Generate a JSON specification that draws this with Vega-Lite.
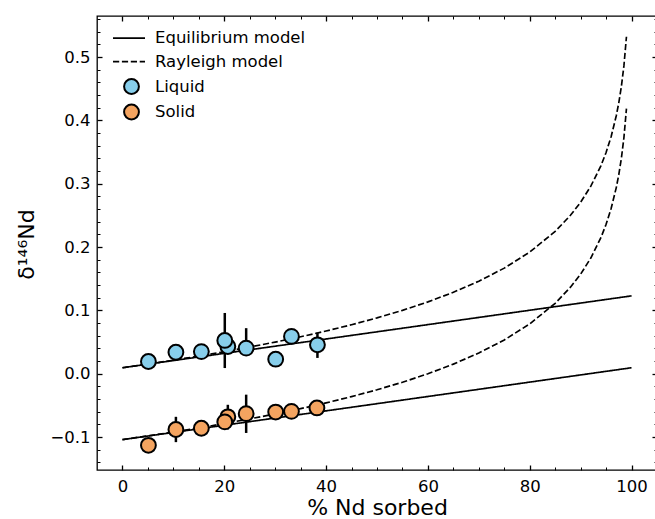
{
  "$schema": "https://vega.github.io/schema/vega-lite/v6.json",
  "width": 560,
  "height": 454,
  "autosize": "none",
  "padding": {"left": 97, "top": 16, "right": -2, "bottom": 49},
  "background": "white",
  "config": {
    "view": {"stroke": "black", "strokeWidth": 1.3},
    "font": "DejaVu Sans",
    "axis": {"labelFont": "DejaVu Sans", "labelFontSize": 16.5, "labelColor": "black", "titleFont": "DejaVu Sans", "titleFontWeight": "normal", "titleColor": "black", "grid": false, "domain": false, "tickColor": "black", "labelFlush": false, "labelOverlap": false},
    "legend": {"labelFont": "DejaVu Sans", "labelFontSize": 16.5, "labelColor": "black"}
  },
  "datasets": {
    "models": [
      {"pct": 0, "d": 0.0095, "model": "Equilibrium model", "phase": "Liquid"},
      {"pct": 100, "d": 0.123, "model": "Equilibrium model", "phase": "Liquid"},
      {"pct": 0, "d": -0.104, "model": "Equilibrium model", "phase": "Solid"},
      {"pct": 100, "d": 0.0095, "model": "Equilibrium model", "phase": "Solid"},
      {"pct": 0, "d": 0.0095, "model": "Rayleigh model", "phase": "Liquid"},
      {"pct": 5, "d": 0.0153, "model": "Rayleigh model", "phase": "Liquid"},
      {"pct": 10, "d": 0.0215, "model": "Rayleigh model", "phase": "Liquid"},
      {"pct": 15, "d": 0.0279, "model": "Rayleigh model", "phase": "Liquid"},
      {"pct": 20, "d": 0.0348, "model": "Rayleigh model", "phase": "Liquid"},
      {"pct": 25, "d": 0.0422, "model": "Rayleigh model", "phase": "Liquid"},
      {"pct": 30, "d": 0.05, "model": "Rayleigh model", "phase": "Liquid"},
      {"pct": 35, "d": 0.0584, "model": "Rayleigh model", "phase": "Liquid"},
      {"pct": 40, "d": 0.0675, "model": "Rayleigh model", "phase": "Liquid"},
      {"pct": 45, "d": 0.0774, "model": "Rayleigh model", "phase": "Liquid"},
      {"pct": 50, "d": 0.0882, "model": "Rayleigh model", "phase": "Liquid"},
      {"pct": 55, "d": 0.1001, "model": "Rayleigh model", "phase": "Liquid"},
      {"pct": 60, "d": 0.1135, "model": "Rayleigh model", "phase": "Liquid"},
      {"pct": 65, "d": 0.1287, "model": "Rayleigh model", "phase": "Liquid"},
      {"pct": 70, "d": 0.1462, "model": "Rayleigh model", "phase": "Liquid"},
      {"pct": 75, "d": 0.1668, "model": "Rayleigh model", "phase": "Liquid"},
      {"pct": 80, "d": 0.1922, "model": "Rayleigh model", "phase": "Liquid"},
      {"pct": 85, "d": 0.2248, "model": "Rayleigh model", "phase": "Liquid"},
      {"pct": 88, "d": 0.2502, "model": "Rayleigh model", "phase": "Liquid"},
      {"pct": 90, "d": 0.2708, "model": "Rayleigh model", "phase": "Liquid"},
      {"pct": 92, "d": 0.2962, "model": "Rayleigh model", "phase": "Liquid"},
      {"pct": 94, "d": 0.3288, "model": "Rayleigh model", "phase": "Liquid"},
      {"pct": 95, "d": 0.3495, "model": "Rayleigh model", "phase": "Liquid"},
      {"pct": 96, "d": 0.3748, "model": "Rayleigh model", "phase": "Liquid"},
      {"pct": 97, "d": 0.4075, "model": "Rayleigh model", "phase": "Liquid"},
      {"pct": 97.5, "d": 0.4282, "model": "Rayleigh model", "phase": "Liquid"},
      {"pct": 98, "d": 0.4535, "model": "Rayleigh model", "phase": "Liquid"},
      {"pct": 98.5, "d": 0.4862, "model": "Rayleigh model", "phase": "Liquid"},
      {"pct": 99, "d": 0.5322, "model": "Rayleigh model", "phase": "Liquid"},
      {"pct": 0, "d": -0.104, "model": "Rayleigh model", "phase": "Solid"},
      {"pct": 5, "d": -0.0982, "model": "Rayleigh model", "phase": "Solid"},
      {"pct": 10, "d": -0.092, "model": "Rayleigh model", "phase": "Solid"},
      {"pct": 15, "d": -0.0856, "model": "Rayleigh model", "phase": "Solid"},
      {"pct": 20, "d": -0.0787, "model": "Rayleigh model", "phase": "Solid"},
      {"pct": 25, "d": -0.0713, "model": "Rayleigh model", "phase": "Solid"},
      {"pct": 30, "d": -0.0635, "model": "Rayleigh model", "phase": "Solid"},
      {"pct": 35, "d": -0.0551, "model": "Rayleigh model", "phase": "Solid"},
      {"pct": 40, "d": -0.046, "model": "Rayleigh model", "phase": "Solid"},
      {"pct": 45, "d": -0.0361, "model": "Rayleigh model", "phase": "Solid"},
      {"pct": 50, "d": -0.0253, "model": "Rayleigh model", "phase": "Solid"},
      {"pct": 55, "d": -0.0134, "model": "Rayleigh model", "phase": "Solid"},
      {"pct": 60, "d": 0.0, "model": "Rayleigh model", "phase": "Solid"},
      {"pct": 65, "d": 0.0152, "model": "Rayleigh model", "phase": "Solid"},
      {"pct": 70, "d": 0.0327, "model": "Rayleigh model", "phase": "Solid"},
      {"pct": 75, "d": 0.0533, "model": "Rayleigh model", "phase": "Solid"},
      {"pct": 80, "d": 0.0787, "model": "Rayleigh model", "phase": "Solid"},
      {"pct": 85, "d": 0.1113, "model": "Rayleigh model", "phase": "Solid"},
      {"pct": 88, "d": 0.1367, "model": "Rayleigh model", "phase": "Solid"},
      {"pct": 90, "d": 0.1573, "model": "Rayleigh model", "phase": "Solid"},
      {"pct": 92, "d": 0.1827, "model": "Rayleigh model", "phase": "Solid"},
      {"pct": 94, "d": 0.2153, "model": "Rayleigh model", "phase": "Solid"},
      {"pct": 95, "d": 0.236, "model": "Rayleigh model", "phase": "Solid"},
      {"pct": 96, "d": 0.2613, "model": "Rayleigh model", "phase": "Solid"},
      {"pct": 97, "d": 0.294, "model": "Rayleigh model", "phase": "Solid"},
      {"pct": 97.5, "d": 0.3147, "model": "Rayleigh model", "phase": "Solid"},
      {"pct": 98, "d": 0.34, "model": "Rayleigh model", "phase": "Solid"},
      {"pct": 98.5, "d": 0.3727, "model": "Rayleigh model", "phase": "Solid"},
      {"pct": 99, "d": 0.4187, "model": "Rayleigh model", "phase": "Solid"}
    ],
    "errors": [
      {"pct": 20.1, "lo": 0.009, "hi": 0.096},
      {"pct": 24.3, "lo": 0.040, "hi": 0.072},
      {"pct": 38.3, "lo": 0.025, "hi": 0.065},
      {"pct": 10.5, "lo": -0.108, "hi": -0.068},
      {"pct": 20.7, "lo": -0.088, "hi": -0.049},
      {"pct": 24.3, "lo": -0.0935, "hi": -0.033}
    ],
    "points": [
      {"pct": 5.1, "d": 0.0194, "phase": "Liquid"},
      {"pct": 10.5, "d": 0.034, "phase": "Liquid"},
      {"pct": 15.5, "d": 0.035, "phase": "Liquid"},
      {"pct": 20.7, "d": 0.043, "phase": "Liquid"},
      {"pct": 20.1, "d": 0.0526, "phase": "Liquid"},
      {"pct": 24.3, "d": 0.0405, "phase": "Liquid"},
      {"pct": 30.1, "d": 0.023, "phase": "Liquid"},
      {"pct": 33.2, "d": 0.059, "phase": "Liquid"},
      {"pct": 38.3, "d": 0.0457, "phase": "Liquid"},
      {"pct": 5.1, "d": -0.113, "phase": "Solid"},
      {"pct": 10.5, "d": -0.088, "phase": "Solid"},
      {"pct": 15.5, "d": -0.086, "phase": "Solid"},
      {"pct": 20.7, "d": -0.068, "phase": "Solid"},
      {"pct": 20.1, "d": -0.076, "phase": "Solid"},
      {"pct": 24.3, "d": -0.063, "phase": "Solid"},
      {"pct": 30.1, "d": -0.0605, "phase": "Solid"},
      {"pct": 33.2, "d": -0.0594, "phase": "Solid"},
      {"pct": 38.2, "d": -0.054, "phase": "Solid"}
    ]
  },
  "layer": [
    {
      "data": {"name": "models"},
      "mark": {"type": "line", "color": "black", "strokeWidth": 1.67},
      "encoding": {
        "x": {
          "field": "pct", "type": "quantitative",
          "scale": {"domain": [-5, 105], "nice": false, "zero": false},
          "axis": {
            "orient": "bottom", "title": "% Nd sorbed", "titleFontSize": 22,
            "values": [0,5,10,15,20,25,30,35,40,45,50,55,60,65,70,75,80,85,90,95,100],
            "labelExpr": "datum.value % 20 === 0 ? datum.label : ''",
            "tickSize": {"condition": {"test": "datum.value % 20 === 0", "value": -5}, "value": -3},
            "tickWidth": {"condition": {"test": "datum.value % 20 === 0", "value": 1.3}, "value": 1},
            "labelPadding": 13,
            "titleY": 44, "titleBaseline": "alphabetic"
          }
        },
        "y": {
          "field": "d", "type": "quantitative",
          "scale": {"domain": [-0.152, 0.565], "nice": false, "zero": false},
          "axis": {
            "orient": "left", "title": "δ¹⁴⁶Nd", "titleFontSize": 22,
            "values": [-0.14,-0.12,-0.1,-0.08,-0.06,-0.04,-0.02,0,0.02,0.04,0.06,0.08,0.1,0.12,0.14,0.16,0.18,0.2,0.22,0.24,0.26,0.28,0.3,0.32,0.34,0.36,0.38,0.4,0.42,0.44,0.46,0.48,0.5,0.52,0.54,0.56],
            "format": ".1f",
            "labelExpr": "abs(datum.value*10 - round(datum.value*10)) < 0.001 ? datum.label : ''",
            "tickSize": {"condition": {"test": "abs(datum.value*10 - round(datum.value*10)) < 0.001", "value": -5}, "value": -3},
            "tickWidth": {"condition": {"test": "abs(datum.value*10 - round(datum.value*10)) < 0.001", "value": 1.3}, "value": 1},
            "labelPadding": 12,
            "titleX": -63.5, "titleY": 228, "titleAngle": -90, "titleBaseline": "alphabetic", "titleAlign": "center"
          }
        },
        "strokeDash": {
          "field": "model", "type": "nominal",
          "scale": {"domain": ["Equilibrium model", "Rayleigh model"], "range": [[1, 0], [6.2, 2.7]]},
          "legend": {
            "title": null, "orient": "none", "legendX": 15, "legendY": 13.2,
            "symbolType": "M-1,0H3", "symbolSize": 256, "symbolStrokeColor": "black",
            "symbolStrokeWidth": 1.67, "symbolFillColor": "transparent",
            "labelOffset": 25, "rowPadding": 5.5, "padding": 0
          }
        },
        "detail": {"field": "phase", "type": "nominal"}
      }
    },
    {
      "data": {"name": "errors"},
      "mark": {"type": "rule", "color": "black", "strokeWidth": 2.5},
      "encoding": {
        "x": {"field": "pct", "type": "quantitative", "scale": {"domain": [-5, 105], "nice": false, "zero": false}, "axis": null},
        "y": {"field": "lo", "type": "quantitative", "scale": {"domain": [-0.152, 0.565], "nice": false, "zero": false}, "axis": null},
        "y2": {"field": "hi"}
      }
    },
    {
      "data": {"name": "points"},
      "mark": {"type": "point", "shape": "circle", "filled": true, "opacity": 1, "stroke": "black", "strokeWidth": 2, "size": 220},
      "encoding": {
        "x": {
          "field": "pct", "type": "quantitative",
          "scale": {"domain": [-5, 105], "nice": false, "zero": false},
          "axis": {
            "orient": "top", "title": null, "labels": false,
            "values": [0,5,10,15,20,25,30,35,40,45,50,55,60,65,70,75,80,85,90,95,100],
            "tickSize": {"condition": {"test": "datum.value % 20 === 0", "value": -5}, "value": -3},
            "tickWidth": {"condition": {"test": "datum.value % 20 === 0", "value": 1.3}, "value": 1}
          }
        },
        "y": {
          "field": "d", "type": "quantitative",
          "scale": {"domain": [-0.152, 0.565], "nice": false, "zero": false},
          "axis": {
            "orient": "right", "title": null, "labels": false,
            "values": [-0.14,-0.12,-0.1,-0.08,-0.06,-0.04,-0.02,0,0.02,0.04,0.06,0.08,0.1,0.12,0.14,0.16,0.18,0.2,0.22,0.24,0.26,0.28,0.3,0.32,0.34,0.36,0.38,0.4,0.42,0.44,0.46,0.48,0.5,0.52,0.54,0.56],
            "tickSize": {"condition": {"test": "abs(datum.value*10 - round(datum.value*10)) < 0.001", "value": -5}, "value": -3},
            "tickWidth": {"condition": {"test": "abs(datum.value*10 - round(datum.value*10)) < 0.001", "value": 1.3}, "value": 1}
          }
        },
        "fill": {
          "field": "phase", "type": "nominal",
          "scale": {"domain": ["Liquid", "Solid"], "range": ["#87ceeb", "#f4a460"]},
          "legend": {
            "title": null, "orient": "none", "legendX": 26, "legendY": 62,
            "symbolType": "circle", "symbolSize": 220, "symbolStrokeColor": "black",
            "symbolStrokeWidth": 2, "symbolOpacity": 1,
            "labelOffset": 15, "rowPadding": 2.5, "padding": 0
          }
        }
      }
    }
  ],
  "resolve": {"axis": {"x": "independent", "y": "independent"}}
}
